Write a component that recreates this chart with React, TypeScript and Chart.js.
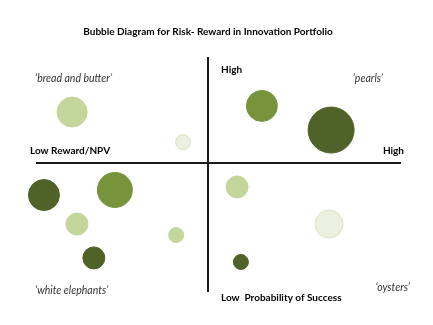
import React, { useEffect, useRef } from "react";
import { Chart, registerables } from "chart.js";

Chart.register(...registerables);

// Reward/NPV (x), Probability of Success (y), bubble size (r), colour group
const reward = [1.05, 4.27, 6.56, 8.57, 0.23, 2.29, 1.19, 4.07, 1.68, 5.84, 8.51, 5.95];
const probability = [7.4, 5.98, 7.69, 6.55, 3.48, 3.72, 2.11, 1.59, 0.51, 3.86, 2.11, 0.32];
const size = [15, 7.5, 15.5, 23, 15.5, 17.5, 11, 7.5, 11, 11, 14, 7.5];
const tone = ["light", "pale", "mid", "dark", "dark", "mid", "light", "light", "dark", "light", "pale", "dark"];

const title = "Bubble Diagram for Risk- Reward in Innovation Portfolio";
const quadrantLabels = ["\u2018bread and butter\u2019", "\u2018pearls\u2019", "\u2018white elephants\u2019", "\u2018oysters\u2019"];
const axisLabels = ["Low Reward/NPV", "High", "High", "Low  Probability of Success"];

const fills: Record<string, string> = {
  dark: "#4f6228",
  mid: "#77933c",
  light: "#c3d69b",
  pale: "#ebf1de",
};
const borders: Record<string, string> = {
  dark: "#4f6228",
  mid: "#77933c",
  light: "#c3d69b",
  pale: "#d7e4bd",
};

const FONT = "Lato, 'Open Sans', sans-serif";

const overlay = {
  id: "overlay",
  beforeDatasetsDraw(chart: any) {
    const { ctx, scales } = chart;
    const x = scales.x;
    const y = scales.y;
    ctx.save();
    ctx.strokeStyle = "#1a1a1a";
    ctx.lineWidth = 2;
    const cx = Math.round(x.getPixelForValue(5));
    const cy = Math.round(y.getPixelForValue(5));
    ctx.beginPath();
    ctx.moveTo(cx, chart.chartArea.top);
    ctx.lineTo(cx, chart.chartArea.bottom);
    ctx.moveTo(chart.chartArea.left, cy);
    ctx.lineTo(chart.chartArea.right, cy);
    ctx.stroke();
    ctx.restore();
  },
  afterDraw(chart: any) {
    const { ctx } = chart;
    ctx.save();
    ctx.textBaseline = "middle";
    ctx.fillStyle = "#000";
    ctx.font = `bold 10px ${FONT}`;
    ctx.textAlign = "center";
    ctx.fillText(title, 208, 32);
    ctx.textAlign = "left";
    ctx.fillText(axisLabels[0], 30, 151);
    ctx.fillText(axisLabels[2], 221, 70);
    ctx.fillText(axisLabels[3], 221, 298);
    ctx.textAlign = "right";
    ctx.fillText(axisLabels[1], 404, 151);
    ctx.fillStyle = "#333";
    ctx.font = `italic 10.5px ${FONT}`;
    ctx.textAlign = "left";
    ctx.fillText(quadrantLabels[0], 35, 79);
    ctx.fillText(quadrantLabels[2], 35, 291);
    ctx.textAlign = "right";
    ctx.fillText(quadrantLabels[1], 383, 79);
    ctx.fillText(quadrantLabels[3], 410, 288);
    ctx.restore();
  },
};

export default function App() {
  const ref = useRef<HTMLCanvasElement | null>(null);
  useEffect(() => {
    if (!ref.current) return;
    const data = reward.map((v, i) => ({ x: v, y: probability[i], r: size[i] }));
    const chart = new Chart(ref.current, {
      type: "bubble",
      data: {
        datasets: [
          {
            data,
            backgroundColor: tone.map((t) => fills[t]),
            borderColor: tone.map((t) => borders[t]),
            borderWidth: 1,
            clip: false,
          } as any,
        ],
      },
      options: {
        animation: false,
        responsive: true,
        maintainAspectRatio: false,
        layout: { padding: { left: 36, right: 32, top: 57, bottom: 33 } },
        scales: {
          x: { type: "linear", min: 0, max: 10.6, display: false },
          y: { type: "linear", min: -1.1, max: 10, display: false },
        },
        plugins: {
          legend: { display: false },
          tooltip: { enabled: false },
          title: { display: false },
        },
      },
      plugins: [overlay],
    });
    return () => chart.destroy();
  }, []);
  return (
    <div style={{ position: "absolute", left: 0, top: 0, width: 433, height: 325, background: "#fff" }}>
      <canvas ref={ref} />
    </div>
  );
}
